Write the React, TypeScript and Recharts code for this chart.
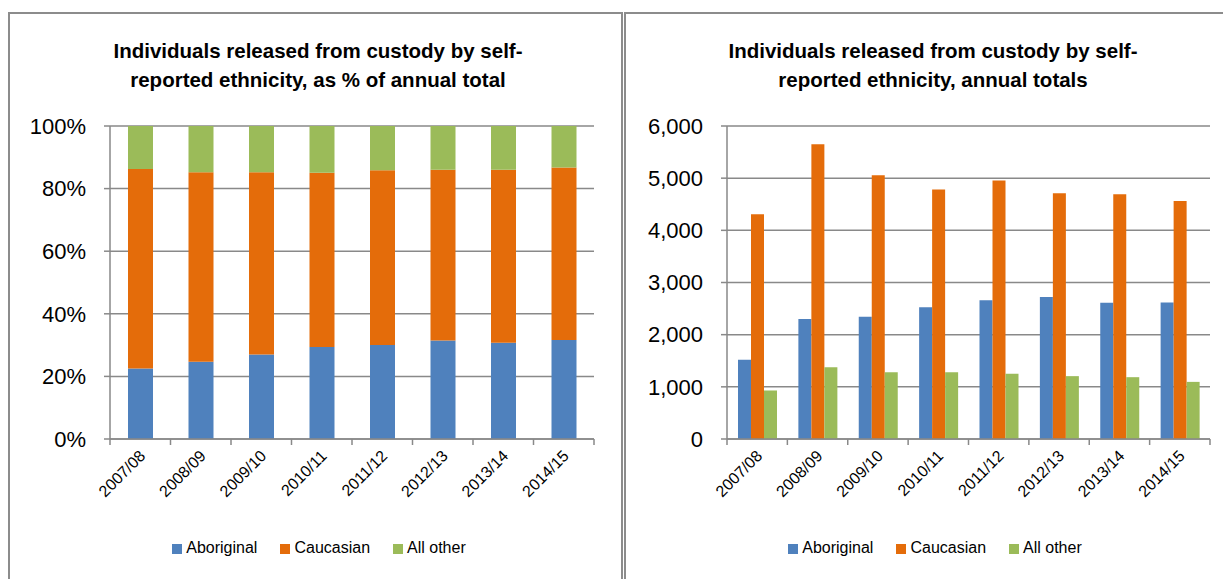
import { Bar, BarChart, CartesianGrid, Legend, XAxis, YAxis } from "recharts";

// Releases from custody by self-reported ethnicity, fiscal years
const years = [
  "2007/08",
  "2008/09",
  "2009/10",
  "2010/11",
  "2011/12",
  "2012/13",
  "2013/14",
  "2014/15",
];
const aboriginal = [1520, 2300, 2345, 2525, 2660, 2720, 2610, 2615];
const caucasian = [4310, 5650, 5055, 4785, 4955, 4710, 4690, 4560];
const allOther = [930, 1375, 1280, 1280, 1250, 1205, 1185, 1095];

const pctTicks = [0, 0.2, 0.4, 0.6, 0.8, 1];
const countTicks = [0, 1000, 2000, 3000, 4000, 5000, 6000];

const rows = years.map((year, i) => ({
  year,
  aboriginal: aboriginal[i],
  caucasian: caucasian[i],
  allOther: allOther[i],
}));

const FONT = '"Liberation Sans", Arial, sans-serif';
const GRID = "#898989";
const BLUE = "#4f81bd";
const ORANGE = "#e46c0a";
const GREEN = "#9bbb59";

const series = [
  { key: "aboriginal", name: "Aboriginal", color: BLUE },
  { key: "caucasian", name: "Caucasian", color: ORANGE },
  { key: "allOther", name: "All other", color: GREEN },
];

// Excel-style category axis: tick marks sit between categories, labels at 45°
function CategoryTick(props: any) {
  const { x, y, payload, index, visibleTicksCount } = props;
  const half = payload?.offset ?? 30;
  const last = index === visibleTicksCount - 1;
  const ax = x + 6;
  const ay = y + 18;
  return (
    <g>
      <line x1={x - half} y1={y} x2={x - half} y2={y + 6} stroke={GRID} strokeWidth={1.5} />
      {last && <line x1={x + half} y1={y} x2={x + half} y2={y + 6} stroke={GRID} strokeWidth={1.5} />}
      <text
        x={ax}
        y={ay}
        textAnchor="end"
        transform={`rotate(-45 ${ax} ${ay})`}
        fontSize={16}
        fontFamily={FONT}
        fill="#000"
      >
        {payload.value}
      </text>
    </g>
  );
}

function LegendRow() {
  return (
    <div
      style={{
        height: 20,
        lineHeight: "20px",
        textAlign: "center",
        fontFamily: FONT,
        fontSize: 16,
        color: "#000",
        whiteSpace: "nowrap",
      }}
    >
      {series.map((s, i) => (
        <span key={s.key} style={{ marginLeft: i === 0 ? 0 : 23 }}>
          <span
            style={{
              display: "inline-block",
              width: 10,
              height: 10,
              background: s.color,
              marginRight: 4,
              verticalAlign: "-1px",
            }}
          />
          {s.name}
        </span>
      ))}
    </div>
  );
}

function Title({ center, lines }: { center: number; lines: string[] }) {
  return (
    <div
      style={{
        position: "absolute",
        left: center - 300,
        width: 600,
        top: 36,
        textAlign: "center",
        fontFamily: FONT,
        fontWeight: "bold",
        fontSize: 20.5,
        lineHeight: "29px",
        color: "#000",
      }}
    >
      {lines.map((l) => (
        <div key={l}>{l}</div>
      ))}
    </div>
  );
}

const axisLabel = { fontSize: 22, fontFamily: FONT, fill: "#000" };

export default function App() {
  return (
    <div
      style={{
        position: "absolute",
        left: 0,
        top: 0,
        width: 1223,
        height: 579,
        overflow: "hidden",
        background: "#fff",
      }}
    >
      {/* panel frames */}
      <div
        style={{
          position: "absolute",
          left: 8,
          top: 12,
          width: 611,
          height: 600,
          border: "2px solid #8c8c8c",
        }}
      />
      <div
        style={{
          position: "absolute",
          left: 624,
          top: 12,
          width: 640,
          height: 600,
          border: "2px solid #8c8c8c",
        }}
      />

      <Title
        center={318}
        lines={["Individuals released from custody by self-", "reported ethnicity, as % of annual total"]}
      />
      <Title
        center={933}
        lines={["Individuals released from custody by self-", "reported ethnicity, annual totals"]}
      />

      <div style={{ position: "absolute", left: 0, top: 0 }}>
        <BarChart
          width={615}
          height={579}
          data={rows}
          stackOffset="expand"
          barSize={25}
          margin={{ top: 126, right: 21, bottom: 21, left: 0 }}
        >
          <CartesianGrid vertical={false} stroke={GRID} strokeWidth={1.5} />
          <XAxis
            dataKey="year"
            height={99}
            axisLine={{ stroke: GRID, strokeWidth: 1.5 }}
            tickLine={false}
            tickSize={0}
            tickMargin={0}
            interval={0}
            tick={<CategoryTick />}
          />
          <YAxis
            width={110}
            domain={[0, 1]}
            ticks={pctTicks}
            tickFormatter={(v: number) => `${Math.round(v * 100)}%`}
            axisLine={{ stroke: GRID, strokeWidth: 1.5 }}
            tickLine={{ stroke: GRID, strokeWidth: 1.5 }}
            tickSize={6}
            tickMargin={18}
            tick={axisLabel}
          />
          <Legend
            verticalAlign="bottom"
            content={() => <LegendRow />}
            wrapperStyle={{ left: 0, width: 638 }}
          />
          {series.map((s) => (
            <Bar
              key={s.key}
              dataKey={s.key}
              name={s.name}
              stackId="share"
              fill={s.color}
              isAnimationActive={false}
            />
          ))}
        </BarChart>
      </div>

      <div style={{ position: "absolute", left: 621, top: 0 }}>
        <BarChart
          width={602}
          height={579}
          data={rows}
          barSize={13}
          barGap={0}
          margin={{ top: 126, right: 13, bottom: 21, left: 0 }}
        >
          <CartesianGrid vertical={false} stroke={GRID} strokeWidth={1.5} />
          <XAxis
            dataKey="year"
            height={99}
            axisLine={{ stroke: GRID, strokeWidth: 1.5 }}
            tickLine={false}
            tickSize={0}
            tickMargin={0}
            interval={0}
            tick={<CategoryTick />}
          />
          <YAxis
            width={106}
            domain={[0, 6000]}
            ticks={countTicks}
            tickFormatter={(v: number) => v.toLocaleString("en-US")}
            axisLine={{ stroke: GRID, strokeWidth: 1.5 }}
            tickLine={{ stroke: GRID, strokeWidth: 1.5 }}
            tickSize={6}
            tickMargin={18}
            tick={axisLabel}
          />
          <Legend
            verticalAlign="bottom"
            content={() => <LegendRow />}
            wrapperStyle={{ left: 0, width: 628 }}
          />
          {series.map((s) => (
            <Bar
              key={s.key}
              dataKey={s.key}
              name={s.name}
              fill={s.color}
              isAnimationActive={false}
            />
          ))}
        </BarChart>
      </div>
    </div>
  );
}
